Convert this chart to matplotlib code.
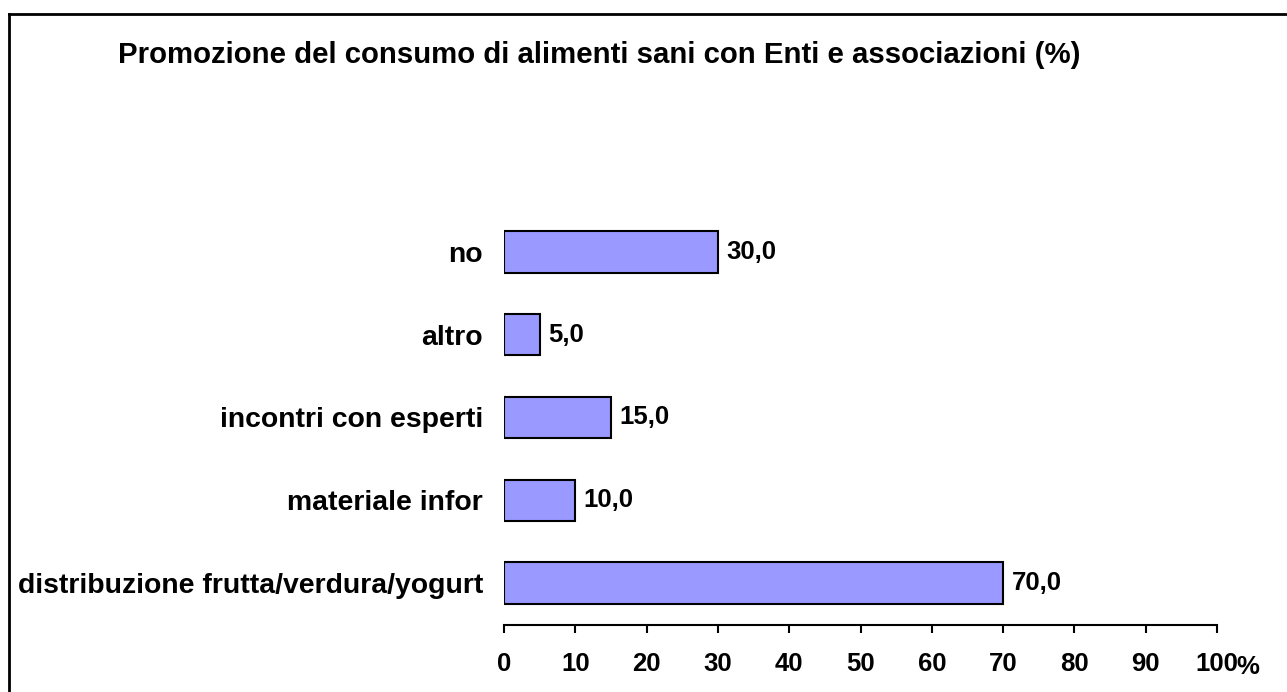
import matplotlib
matplotlib.use('Agg')
from matplotlib import pyplot as plt
from matplotlib.lines import Line2D

categories = ['distribuzione frutta/verdura/yogurt', 'materiale infor',
              'incontri con esperti', 'altro', 'no']
values = [70.0, 10.0, 15.0, 5.0, 30.0]
x_ticks = [0, 10, 20, 30, 40, 50, 60, 70, 80, 90, 100]
title = 'Promozione del consumo di alimenti sani con Enti e associazioni (%)'

plt.rcParams['font.family'] = ['Liberation Sans', 'DejaVu Sans']
plt.rcParams['font.weight'] = 'bold'

W, H = 1287, 692
fig = plt.figure(figsize=(W / 100, H / 100), dpi=100)
ax = fig.add_axes([504 / W, 1 - 624.5 / H, (1217 - 504) / W, (624.5 - 210.5) / H])

pos = list(range(len(categories)))
ax.barh(pos, values, height=0.5, color='#9999FF', edgecolor='black', linewidth=1.5)
for p, v in zip(pos, values):
    ax.annotate(('%.1f' % v).replace('.', ','), (v, p), xytext=(6, 0),
                textcoords='offset points', va='center', ha='left',
                fontsize=18.5, fontweight='bold')

ax.set_xlim(0, 100)
ax.set_ylim(-0.5, 4.5)
ax.set_xticks(x_ticks)
ax.set_yticks(pos)
ax.set_yticklabels(categories, fontsize=20.4, fontweight='bold')
ax.tick_params(axis='y', length=0, pad=15)
ax.tick_params(axis='x', direction='out', length=6, width=1.5, labelsize=18.5, pad=13.5)
for lab in ax.get_xticklabels():
    lab.set_fontweight('bold')
for s in ['left', 'right', 'top']:
    ax.spines[s].set_visible(False)
ax.spines['bottom'].set_linewidth(1.5)

fig.text(1236 / W, 1 - 674 / H, '%', fontsize=18.5, fontweight='bold',
         ha='left', va='baseline')

fig.text(118 / W, 1 - 55 / H, title, fontsize=21.2, fontweight='bold', va='center', ha='left')

# cornice del grafico (solo lati visibili)
fig.add_artist(Line2D([9 / W, 9 / W], [0, 1 - 14 / H], color='black', linewidth=2))
fig.add_artist(Line2D([9 / W, 1], [1 - 14 / H, 1 - 14 / H], color='black', linewidth=2))

fig.savefig('out.png', dpi=100)
